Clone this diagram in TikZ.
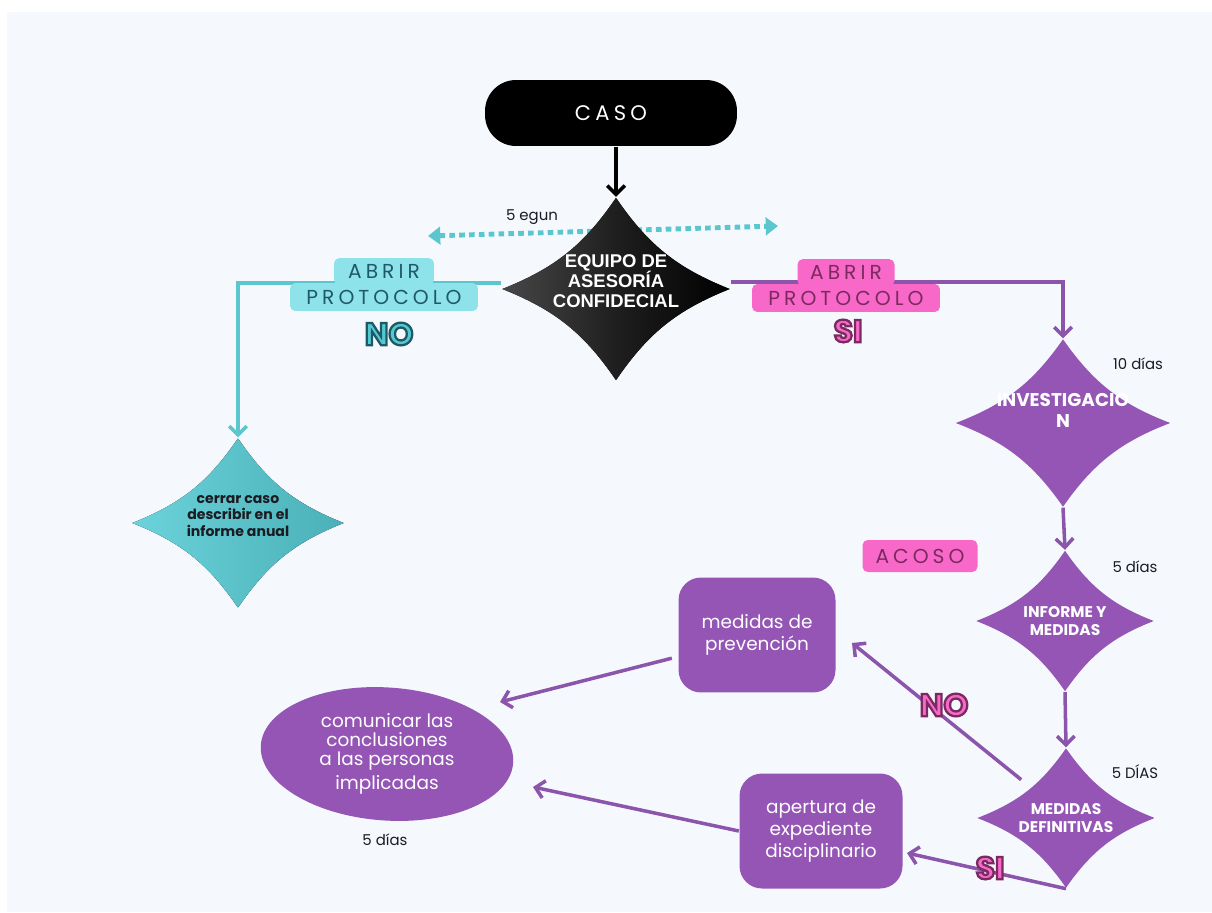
\documentclass[tikz,border=0pt]{standalone}
\usepackage{fontspec}
\setmainfont{Poppins}
\newfontfamily\arialf{Liberation Sans}
\usepackage{tikz}
\usetikzlibrary{arrows.meta,shapes.geometric,positioning}

\definecolor{bgblue}{HTML}{F5F9FE}
\definecolor{purp}{HTML}{9455B5}
\definecolor{purpline}{HTML}{8A55AA}
\definecolor{tealline}{HTML}{5CC6CF}
\definecolor{tealfill}{HTML}{55C8D1}
\definecolor{teallight}{HTML}{8EE2EA}
\definecolor{pinkfill}{HTML}{F768C9}
\definecolor{pinkdark}{HTML}{7A2A5E}
\definecolor{tealdark}{HTML}{1E5A66}
\definecolor{inkdark}{HTML}{1B1B22}

\newcommand{\spaced}[1]{{\addfontfeatures{LetterSpace=20}#1}}
% outlined display text: fill then stroke
\newcommand{\outlined}[3]{\textcolor{#2}{\special{pdf:literal direct 2 Tr 1.3 w #1 RG}#3\special{pdf:literal direct 0 Tr 0 0 0 RG}}}

\begin{document}
\begin{tikzpicture}[x=0.02cm,y=-0.02cm,thick,
    star fill/.style={fill=purp},
    star node/.style={shape=diamond,inner sep=0pt,
      path picture={\fill[star fill] (path picture bounding box.north)
        to[bend right=17] (path picture bounding box.east)
        to[bend right=17] (path picture bounding box.south)
        to[bend right=17] (path picture bounding box.west)
        to[bend right=17] (path picture bounding box.north) -- cycle;}},
    star text/.style={align=center,text=white,inner sep=0pt},
    purple box/.style={rectangle,rounded corners=0.45cm,fill=purp,text=white,
      align=center,font=\fontsize{10.5}{12.5}\selectfont},
    label box/.style={rectangle,rounded corners=3pt,inner sep=0pt,
      font=\fontsize{11.5}{12}\selectfont},
    day note/.style={font=\fontsize{8.5}{10}\selectfont,text=inkdark},
    purple arrow/.style={draw=purpline,line width=2pt,-{Straight Barb[length=5pt,width=10pt]}},
    teal arrow/.style={draw=tealline,line width=2pt,-{Straight Barb[length=5pt,width=10pt]}},
    bubble/.style={font=\fontsize{18}{18}\selectfont\bfseries}]

  % page
  \fill[white] (0,0) rectangle (1212,912);
  \fill[bgblue] (7,12) rectangle (1212,912);

  % dotted time line
  \coordinate (dotL) at (428,236);
  \coordinate (dotR) at (778,226);
  \draw[tealline,line width=2.8pt,dash pattern=on 3.2pt off 2.4pt,
        {Triangle[length=7pt,width=10pt]}-{Triangle[length=7pt,width=10pt]}] (dotL) -- (dotR);
  \node[day note] (egun) at (532,217) {5 egun};

  % main nodes
  \node[rectangle,rounded corners=0.62cm,fill=black,minimum width=5.04cm,
        minimum height=1.32cm,text=white,font=\fontsize{12}{14}\selectfont]
        (caso) at (611,113) {\spaced{CASO}};
  \node[star node,star fill/.style={left color=black!72,right color=black,middle color=black!88},
        minimum width=4.56cm,minimum height=3.66cm,
        label={[star text,yshift=4.5pt,font=\arialf\bfseries\fontsize{10.5}{11.4}\selectfont]center:EQUIPO DE\\ASESORÍA\\CONFIDECIAL}]
        (equipo) at (616,289) {};
  \node[star node,star fill/.style={left color=tealfill!60!teallight,right color=tealfill!88!black},
        minimum width=4.24cm,minimum height=3.4cm,
        label={[star text,text=inkdark,yshift=4pt,font=\bfseries\fontsize{8}{9.4}\selectfont]center:cerrar caso\\describir en el\\informe anual}]
        (cerrar) at (238,523) {};
  \node[star node,minimum width=4.3cm,minimum height=3.36cm,
        label={[star text,yshift=7pt,font=\bfseries\fontsize{10.5}{12}\selectfont]center:INVESTIGACIO\\N}]
        (invest) at (1063,423) {};
  \node[star node,minimum width=3.56cm,minimum height=2.82cm,
        label={[star text,font=\bfseries\fontsize{8.8}{10.5}\selectfont]center:INFORME Y\\MEDIDAS}]
        (informe) at (1065,621) {};
  \node[star node,minimum width=3.56cm,minimum height=2.8cm,
        label={[star text,font=\bfseries\fontsize{8.8}{10.5}\selectfont]center:MEDIDAS\\DEFINITIVAS}]
        (definit) at (1066,818) {};

  \node[purple box,minimum width=3.14cm,minimum height=2.3cm] (prevenc) at (757,635)
        {medidas de\\prevención};
  \node[purple box,minimum width=3.26cm,minimum height=2.3cm] (expedi) at (821,831)
        {apertura de\\expediente\\disciplinario};
  \node[ellipse,fill=purp,text=white,align=center,minimum width=5.06cm,minimum height=2.66cm,
        inner sep=0pt,font=\fontsize{10.5}{12.5}\selectfont,rotate=-4]
        (comunic) at (387,754) {\rotatebox{4}{\shortstack{comunicar las\\conclusiones\\a las personas\\implicadas}}};

  % connectors
  \draw[line width=2pt,-{Straight Barb[length=5pt,width=10pt]}] (caso.south -| equipo.north) -- (equipo.north);
  \draw[teal arrow] (equipo.west) ++(0,-6) coordinate (eqW) -| (cerrar.north);
  \draw[purple arrow] (equipo.east) ++(0,-7) coordinate (eqE) -| (invest.north);
  \draw[purple arrow] (invest.south) -- (informe.north);
  \draw[purple arrow] (informe.south) -- (definit.north);
  \coordinate (noEnd) at (852,643);
  \draw[purple arrow] (definit.north west) ++(0,-3) -- (noEnd);
  \coordinate (siEnd) at (907,853);
  \draw[purple arrow] (definit.south) -- (siEnd);
  \coordinate (prevEnd) at (500,702);
  \draw[purple arrow] (prevenc.south west) ++(-6,-35) -- (prevEnd);
  \coordinate (expEnd) at (533,787);
  \draw[purple arrow] (expedi.west) -- (expEnd);

  % protocol labels
  \node[label box,fill=teallight,minimum width=3.76cm,minimum height=0.56cm,text=tealdark]
        (protoNo) at (384,297) {\spaced{PROTOCOLO}};
  \node[label box,fill=teallight,minimum width=2.0cm,minimum height=0.54cm,text=tealdark,
        above=-2pt of protoNo] (abrirNo) {\spaced{ABRIR}};
  \node[label box,fill=pinkfill,minimum width=3.76cm,minimum height=0.56cm,text=pinkdark]
        (protoSi) at (846,298) {\spaced{PROTOCOLO}};
  \node[label box,fill=pinkfill,minimum width=1.94cm,minimum height=0.54cm,text=pinkdark,
        above=-2pt of protoSi] (abrirSi) {\spaced{ABRIR}};
  \node[label box,fill=pinkfill,minimum width=2.3cm,minimum height=0.64cm,text=pinkdark]
        (acoso) at (920,556) {\spaced{ACOSO}};

  % yes / no marks
  \node[bubble] (noTeal) at (389,334) {\outlined{0.118 0.353 0.4}{tealfill}{NO}};
  \node[bubble] (siPink) at (848,331) {\outlined{0.478 0.165 0.369}{pinkfill}{SI}};
  \node[bubble] (noPink) at (944,705) {\outlined{0.478 0.165 0.369}{pinkfill}{NO}};
  \node[bubble] (siLow) at (990,868) {\outlined{0.478 0.165 0.369}{pinkfill}{SI}};

  % times
  \node[day note] (t10) at (1138,364) {10 días};
  \node[day note] (t5a) at (1135,567) {5 días};
  \node[day note] (t5b) at (1135,772) {5 DÍAS};
  \node[day note] (t5c) at (385,840) {5 días};

\end{tikzpicture}
\end{document}
